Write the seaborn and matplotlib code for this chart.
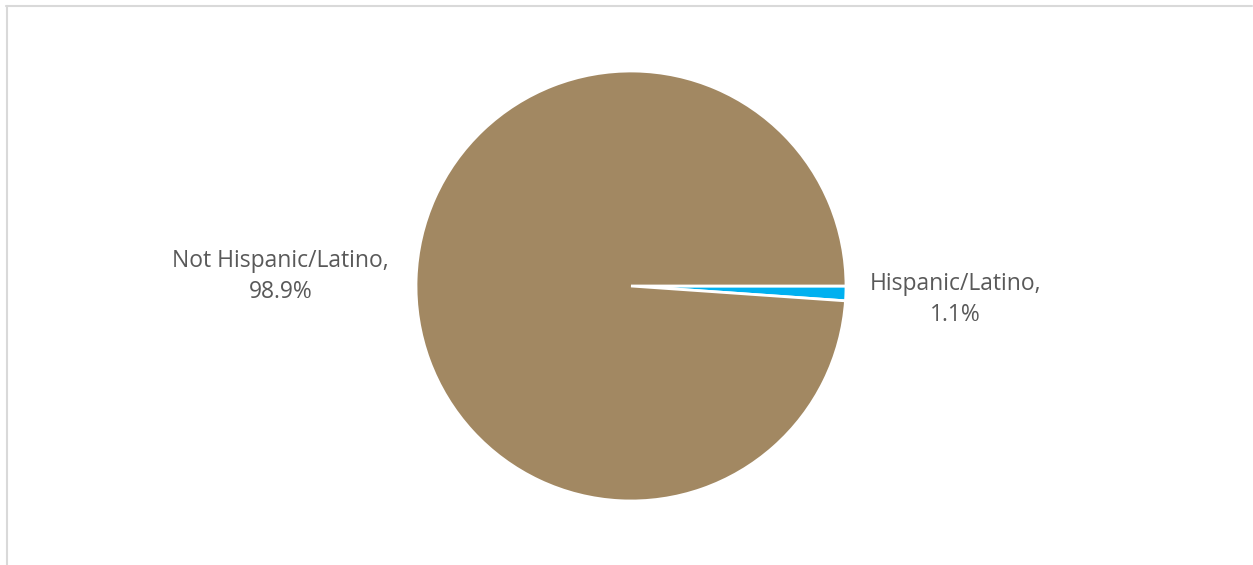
import numpy as np
import matplotlib
matplotlib.use("Agg")
import matplotlib.pyplot as plt
import seaborn as sns
from matplotlib.lines import Line2D

categories = ["Hispanic/Latino", "Not Hispanic/Latino"]
values = [1.1, 98.9]
colors = ["#00B0F0", "#A28862"]
label_dist = [1.51, 1.63]

sns.set_theme(style="white")
plt.rcParams['font.family'] = ['Open Sans', 'DejaVu Sans']

W, H, DPI = 1253, 565, 100
fig = plt.figure(figsize=(W / DPI, H / DPI), dpi=DPI)
ax = fig.add_axes([0, 0, 1, 1])
cx, cy, R = 631, 286, 215  # pixel center/radius (from top)

wedges, _ = ax.pie(values, colors=colors, startangle=0, counterclock=False,
                   radius=1.0, center=(0, 0), frame=True,
                   wedgeprops=dict(edgecolor='white', linewidth=2))
ax.set_xlim(-cx / R, (W - cx) / R)
ax.set_ylim(-(H - cy) / R, cy / R)
ax.set_aspect('equal')
ax.axis('off')

for w, cat, v, d in zip(wedges, categories, values, label_dist):
    mid = np.deg2rad((w.theta1 + w.theta2) / 2)
    ax.text(d * np.cos(mid), d * np.sin(mid) - 0.012, f"{cat},\n{v:.1f}%",
            ha='center', va='center', fontsize=16.5, color='#595959',
            linespacing=1.4)

# light frame
px = lambda x, y: (x / W, 1 - y / H)
fig.add_artist(Line2D(*zip(px(6, 5.5), px(1252, 5.5)), transform=fig.transFigure,
                      color='#d9d9d9', linewidth=1.5))
fig.add_artist(Line2D(*zip(px(7, 5.5), px(7, 565)), transform=fig.transFigure,
                      color='#d9d9d9', linewidth=1.5))

fig.savefig("out.png", dpi=DPI, facecolor='white')
